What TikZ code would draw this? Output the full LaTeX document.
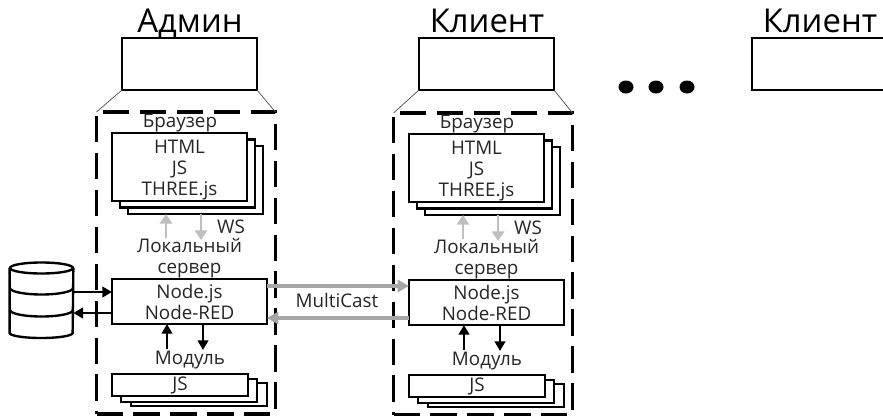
\documentclass[tikz,border=0pt]{standalone}
\usepackage{fontspec}
\setmainfont{Open Sans}
\usetikzlibrary{shapes,arrows.meta,positioning,calc}

\tikzset{
  sized/.style 2 args={minimum width=#1*0.02cm,minimum height=#2*0.02cm},
  box/.style={draw,line width=1.35pt,fill=white,inner sep=0pt,outer sep=0pt},
  frame/.style={draw,line width=2.1pt,dash pattern=on 15pt off 6pt,inner sep=0pt,outer sep=0pt},
  boxtext/.style={text=black!85,font=\fontsize{10.7}{12}\selectfont,align=center},
  lbl/.style={inner sep=0pt,anchor=base,text=black!85,font=\fontsize{10.7}{12}\selectfont},
  ttl/.style={inner sep=0pt,anchor=base,font=\fontsize{18.7}{20}\selectfont},
  blackarrow/.style={line width=1.35pt,-{Triangle[length=5.5pt,width=6pt]}},
  wsarrow/.style={line width=1.7pt,black!25,-{Triangle[length=5.5pt,width=7pt]}},
  mcarrow/.style={line width=2pt,black!35,-{Triangle[length=6.5pt,width=7pt]}}
}

\begin{document}
\begin{tikzpicture}[x=0.02cm,y=-0.02cm]
  \useasboundingbox (0,0) rectangle (883,416);
  % Admin and first client columns
  \foreach \dx/\dy/\nm/\name in {0/0/adm/Админ,297/1/cli/Клиент} {
    \begin{scope}[shift={(\dx,\dy)}]
      \node[ttl] (\nm Title) at (190,32-\dy) {\name};
      \node[box,sized={135}{52}] (\nm Pc) at (189.5,64-\dy) {};
      \node[frame,sized={179}{302}] (\nm Frame) at (186,263) {};
      \draw[line width=0.4pt,black!70] (\nm Pc.south west) -- (\nm Frame.north west);
      \draw[line width=0.4pt,black!70] (\nm Pc.south east) -- (\nm Frame.north east);
      % Browser stack
      \node[lbl] (\nm Browser) at (180,127) {Браузер};
      \node[box,sized={135}{68}] (\nm Web3) at (195.5,180) {};
      \node[box,sized={135}{68}] (\nm Web2) at (187.5,173.5) {};
      \node[box,sized={135}{68}] (\nm Web) at (179.5,167) {};
      \node[boxtext,inner sep=0pt] (\nm WebText) at (179.5,170) {HTML\\JS\\THREE.js};
      % Local server
      \coordinate (\nm WsUp) at (166,238);
      \coordinate (\nm WsDown) at (201,240);
      \draw[wsarrow] (\nm WsUp) -- (\nm WsUp |- \nm Web3.south);
      \draw[wsarrow] (\nm WsDown |- \nm Web3.south) -- (\nm WsDown);
      \node[lbl] (\nm Ws) at (231,233) {WS};
      \node[lbl] (\nm Local) at (189.5,252) {Локальный};
      \node[lbl] (\nm Server) at (189.5,273) {сервер};
      \node[box,boxtext,sized={155}{45}] (\nm Node) at (189.5,301.5) {Node.js\\Node-RED};
      % Module stack
      \coordinate (\nm ModUp) at (167,349);
      \coordinate (\nm ModDown) at (203,350);
      \draw[blackarrow] (\nm ModUp) -- (\nm ModUp |- \nm Node.south);
      \draw[blackarrow] (\nm Node.south -| \nm ModDown) -- (\nm ModDown);
      \node[lbl] (\nm Module) at (190,364) {Модуль};
      \node[box,sized={136}{23}] (\nm Js3) at (199,394.5) {};
      \node[box,sized={136}{23}] (\nm Js2) at (189,390.5) {};
      \node[box,boxtext,sized={136}{22}] (\nm Js) at (180,385) {JS};
    \end{scope}
  }
  % Storage
  \node[inner sep=0pt,sized={63}{70}] (db) at (41.5,302.5) {};
  \draw[line width=1.35pt,fill=white] (db.west |- 0,268) -- (db.west |- 0,333)
    arc[start angle=180,end angle=0,x radius=31.5,y radius=5] -- (db.east |- 0,268);
  \draw[line width=1.35pt] (41.5,268) ellipse[x radius=31.5,y radius=5.5];
  \draw[line width=1.35pt] (10,288) arc[start angle=180,end angle=0,x radius=31.5,y radius=6.5];
  \draw[line width=1.35pt] (10,310) arc[start angle=180,end angle=0,x radius=31.5,y radius=6.5];
  \coordinate (dbIn) at (90,292);
  \coordinate (dbOut) at (90,313);
  \draw[blackarrow] (db.east |- dbIn) -- (admNode.west |- dbIn);
  \draw[blackarrow] (admNode.west |- dbOut) -- (db.east |- dbOut);
  % MultiCast
  \coordinate (mcTop) at (340,286);
  \coordinate (mcBottom) at (340,318);
  \draw[mcarrow] (admNode.east |- mcTop) -- (cliNode.west |- mcTop);
  \draw[mcarrow] (cliNode.west |- mcBottom) -- (admNode.east |- mcBottom);
  \node[lbl] (mcLabel) at (337,307) {MultiCast};
  % Dots and the last client
  \foreach \x/\nm in {626/a,656/b,687/c} {
    \node[ellipse,fill,inner sep=0pt,sized={15}{13}] (dot\nm) at (\x,87) {};
  }
  \node[ttl] (lastTitle) at (820,32) {Клиент};
  \draw[line width=1.35pt] (883,38) -- (752,38) -- (752,90) -- (883,90);
\end{tikzpicture}
\end{document}
